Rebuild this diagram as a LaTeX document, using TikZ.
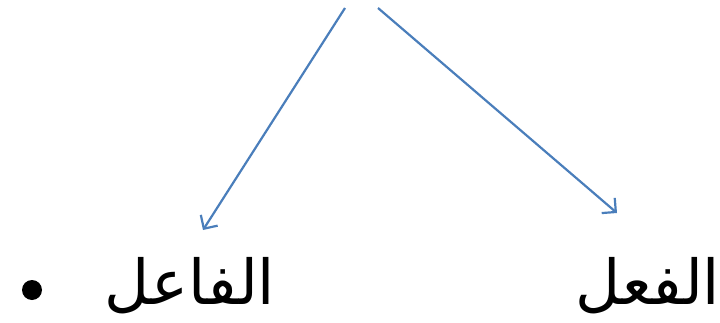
\documentclass[tikz,border=0pt]{standalone}
\usepackage{fontspec}
\TeXXeTstate=1
\newfontfamily\arabicfont[Script=Arabic]{DejaVu Sans}
\definecolor{arrowblue}{HTML}{4A7EBB}
\tikzset{
  conn/.style={draw=arrowblue, line width=2.2pt, -{Straight Barb[length=10pt,width=20pt,line width=2.2pt]}},
  artext/.style={font=\arabicfont\fontsize{62}{72}\selectfont, inner sep=0pt, anchor=base}
}
\usetikzlibrary{arrows.meta}
\begin{document}
\begin{tikzpicture}[x=1pt,y=1pt]
\useasboundingbox (0,0) rectangle (720,322);
\coordinate (s1) at (345,314);
\coordinate (e1) at (203,92);
\coordinate (s2) at (378,314);
\coordinate (e2) at (617,109);
\draw[conn] (s1) -- (e1);
\draw[conn] (s2) -- (e2);
\node[artext] (faail) at (190,18) {\beginR الفاعل\endR};
\node[artext] (fiil) at (648,18) {\beginR الفعل\endR};
\node[circle, fill=black, inner sep=0pt, minimum size=20pt] (bullet) at (32,32) {};
\end{tikzpicture}
\end{document}
